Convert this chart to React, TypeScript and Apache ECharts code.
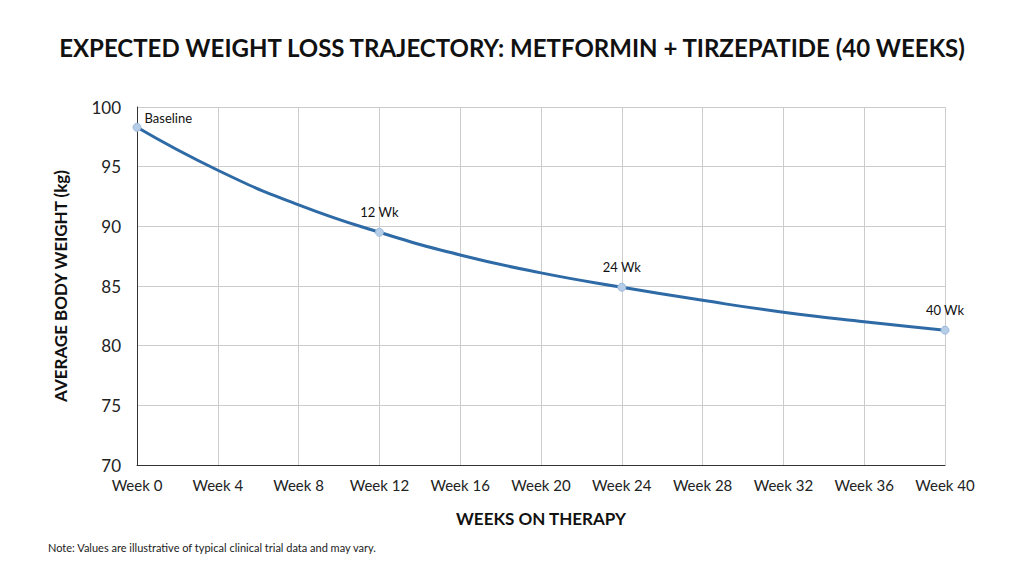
import { useEffect, useRef } from 'react';
import * as echarts from 'echarts';

const weeks = ['Week 0', 'Week 4', 'Week 8', 'Week 12', 'Week 16', 'Week 20', 'Week 24', 'Week 28', 'Week 32', 'Week 36', 'Week 40'];
const weights = [98.3, 94.7, 91.8, 89.5, 87.6, 86.1, 84.9, 83.8, 82.8, 82.0, 81.3];
const milestoneLabels: Record<number, string> = { 0: 'Baseline', 3: '12 Wk', 6: '24 Wk', 10: '40 Wk' };

const FONT = 'Lato, "Noto Sans", sans-serif';

export default function App() {
  const chartRef = useRef<HTMLDivElement>(null);

  useEffect(() => {
    if (!chartRef.current) return;
    document.body.style.margin = '0';
    const chart = echarts.init(chartRef.current, undefined, { renderer: 'svg' });

    const seriesData = weights.map((v, i) => {
      const label = milestoneLabels[i];
      if (label === undefined) return { value: v, symbol: 'none' };
      return {
        value: v,
        symbol: 'circle',
        symbolSize: 8,
        label: {
          show: true,
          formatter: label,
          position: i === 0 ? 'right' : 'top',
          offset: i === 0 ? [-2, -9] : [0, -4],
          color: '#111',
          fontSize: 13,
          fontFamily: FONT,
        },
      };
    });

    chart.setOption({
      animation: false,
      backgroundColor: '#fff',
      title: {
        text: 'EXPECTED WEIGHT LOSS TRAJECTORY: METFORMIN + TIRZEPATIDE (40 WEEKS)',
        left: 'center',
        top: 30,
        textStyle: { fontSize: 24, fontWeight: 'bold', color: '#111', fontFamily: FONT },
      },
      graphic: [
        {
          type: 'text',
          left: 48,
          top: 542,
          style: { text: 'Note: Values are illustrative of typical clinical trial data and may vary.', fontSize: 11, fill: '#222', fontFamily: FONT },
        },
      ],
      grid: { left: 137, right: 79, top: 107, bottom: 107 },
      xAxis: {
        type: 'category',
        data: weeks,
        boundaryGap: false,
        name: 'WEEKS ON THERAPY',
        nameLocation: 'middle',
        nameGap: 45,
        nameTextStyle: { fontSize: 17, fontWeight: 'bold', color: '#111', fontFamily: FONT },
        axisLine: { lineStyle: { color: '#333' } },
        axisTick: { show: false },
        axisLabel: { color: '#222', fontSize: 15, margin: 12, fontFamily: FONT },
        splitLine: { show: true, lineStyle: { color: '#ccc' } },
      },
      yAxis: {
        type: 'value',
        min: 70,
        max: 100,
        interval: 5,
        name: 'AVERAGE BODY WEIGHT (kg)',
        nameLocation: 'middle',
        nameGap: 68,
        nameTextStyle: { fontSize: 17, fontWeight: 'bold', color: '#111', fontFamily: FONT },
        axisLine: { show: true, lineStyle: { color: '#333' } },
        axisTick: { show: false },
        axisLabel: { color: '#222', fontSize: 17, margin: 16, fontFamily: FONT },
        splitLine: { lineStyle: { color: '#ccc' } },
      },
      series: [
        {
          type: 'line',
          data: seriesData,
          smooth: true,
          lineStyle: { width: 3, color: '#2e6aa5' },
          itemStyle: { color: '#b5cde6', borderColor: '#9dbbdc', borderWidth: 1 },
        },
      ],
    });

    return () => chart.dispose();
  }, []);

  return <div ref={chartRef} style={{ width: 1024, height: 572 }} />;
}
